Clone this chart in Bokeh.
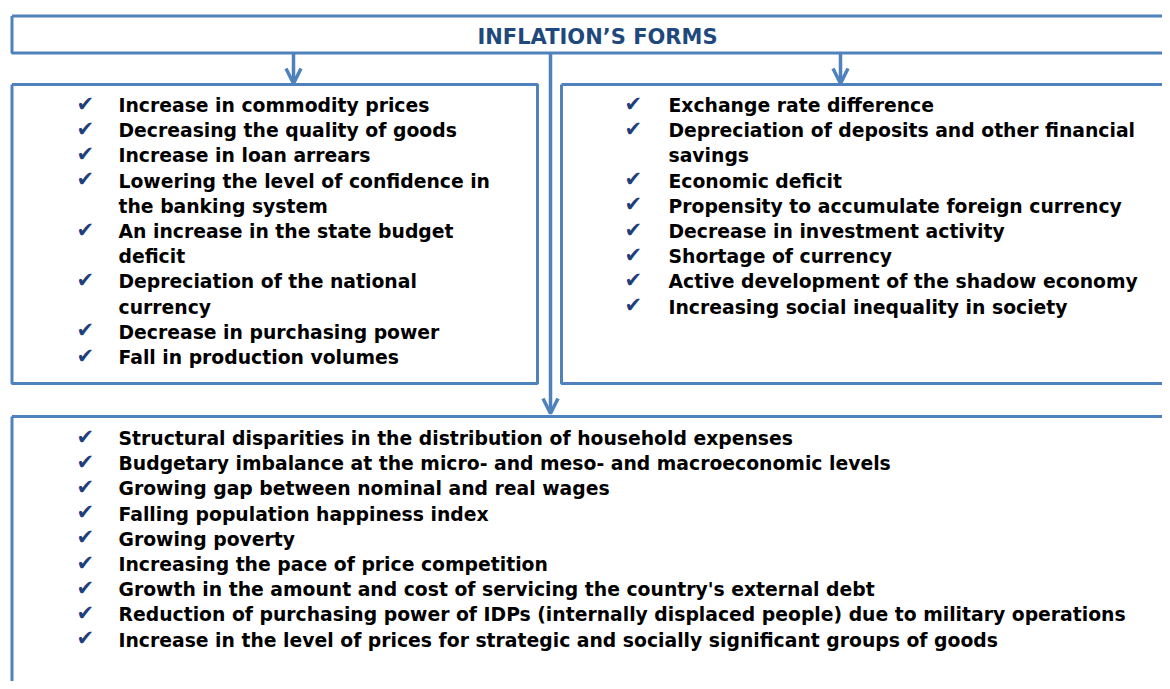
from bokeh.plotting import figure
from bokeh.models import Range1d, Arrow, OpenHead
from bokeh.embed import file_html
from bokeh.resources import INLINE
from bokeh.core.properties import value

title = "INFLATION\u2019S FORMS"

left_items = [
    ["Increase in commodity prices"],
    ["Decreasing the quality of goods"],
    ["Increase in loan arrears"],
    ["Lowering the level of confidence in", "the banking system"],
    ["An increase in the state budget", "deficit"],
    ["Depreciation of the national", "currency"],
    ["Decrease in purchasing power"],
    ["Fall in production volumes"],
]

right_items = [
    ["Exchange rate difference"],
    ["Depreciation of deposits and other financial", "savings"],
    ["Economic deficit"],
    ["Propensity to accumulate foreign currency"],
    ["Decrease in investment activity"],
    ["Shortage of currency"],
    ["Active development of the shadow economy"],
    ["Increasing social inequality in society"],
]

bottom_items = [
    ["Structural disparities in the distribution of household expenses"],
    ["Budgetary imbalance at the micro- and meso- and macroeconomic levels"],
    ["Growing gap between nominal and real wages"],
    ["Falling population happiness index"],
    ["Growing poverty"],
    ["Increasing the pace of price competition"],
    ["Growth in the amount and cost of servicing the country's external debt"],
    ["Reduction of purchasing power of IDPs (internally displaced people) due to military operations"],
    ["Increase in the level of prices for strategic and socially significant groups of goods"],
]

BLUE = "#4F81BD"
CHECK = "#1F3F7A"
FONT = "DejaVu Sans"
FS = "18.8px"
LINE_H = 25.2

p = figure(width=1162, height=681, output_backend="svg", toolbar_location=None,
           x_range=Range1d(0, 1162), y_range=Range1d(681, 0),
           min_border=0, outline_line_color=None)
p.axis.visible = False
p.grid.visible = False
p.background_fill_color = "white"

def box(x0, y0, x1, y1):
    p.line([x0, x1, x1, x0, x0], [y0, y0, y1, y1, y0], line_color=BLUE, line_width=3)

box(11.5, 15.5, 1185, 52.5)
box(11.5, 84, 537, 383)
box(561, 84, 1185, 383)
box(11.5, 416, 1185, 720)

for (xa, y0, y1) in [(293, 53, 83), (840, 53, 83), (550, 53, 413)]:
    p.add_layout(Arrow(end=OpenHead(size=15, line_color=BLUE, line_width=3.5),
                       x_start=xa, y_start=y0, x_end=xa, y_end=y1,
                       line_color=BLUE, line_width=3.5))

p.text(x=[597], y=[36], text=[title], text_font=value(FONT), text_font_style="bold",
       text_font_size="21px", text_color="#1F497D", text_align="center", text_baseline="middle")

def block(items, xtext, xcheck, ystart):
    tx, ty, tt, cx, cy = [], [], [], [], []
    y = ystart
    for item in items:
        cx.append(xcheck); cy.append(y - 2)
        for line in item:
            tx.append(xtext); ty.append(y); tt.append(line)
            y += LINE_H
    p.text(x=tx, y=ty, text=tt, text_font=value(FONT), text_font_style="bold",
           text_font_size=FS, text_color="black", text_baseline="middle")
    p.text(x=cx, y=cy, text=["\u2714"] * len(cx), text_font=value(FONT),
           text_font_size="21px", text_color=CHECK, text_baseline="middle")

block(left_items, 118, 76, 105)
block(right_items, 668, 624, 105)
block(bottom_items, 118, 76, 438)

open("out.html", "w").write(file_html(p, INLINE))
